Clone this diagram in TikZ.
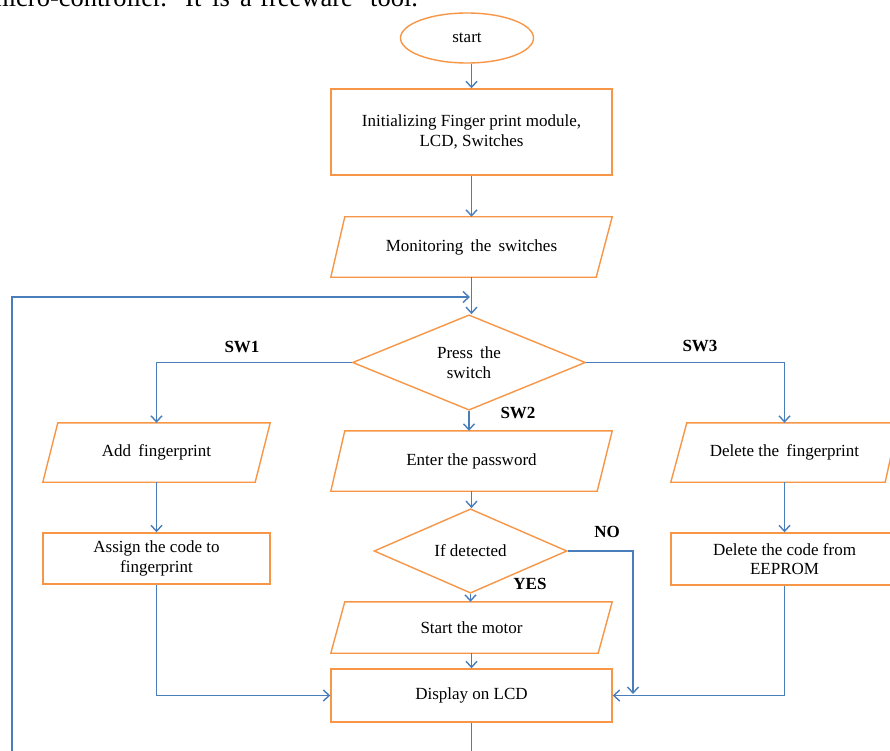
\documentclass[tikz,border=0pt]{standalone}
\usepackage{fontspec}
\setmainfont{Liberation Serif}
\usetikzlibrary{shapes.geometric,arrows.meta,calc}
\definecolor{shapeorange}{HTML}{F79646}
\definecolor{linkblue}{HTML}{4A7EBB}
\newcommand{\boxfont}{\fontsize{17}{19.5}\selectfont}
\tikzset{
  box/.style={rectangle, draw=shapeorange, line width=1.4pt, inner sep=0pt, align=center, font=\boxfont},
  paratext/.style={rectangle, inner sep=0pt, align=center, font=\boxfont},
  paraline/.style={draw=shapeorange, line width=1.4pt, line join=miter},
  decision/.style={diamond, draw=shapeorange, line width=1.4pt, inner sep=0pt, align=center, font=\boxfont},
  terminal/.style={ellipse, draw=shapeorange, line width=1.4pt, inner sep=0pt, font=\boxfont},
  link/.style={draw=linkblue, line width=1.4pt, -{Straight Barb[length=6pt,width=11pt]}},
  plainlink/.style={draw=linkblue, line width=1.4pt},
  swlabel/.style={font=\fontsize{17}{19.5}\selectfont\bfseries, inner sep=0pt},
  bodyword/.style={anchor=base west, inner sep=0pt, font=\fontsize{26.5}{30}\selectfont}
}
\begin{document}
\begin{tikzpicture}[x=1pt,y=-1pt]
\useasboundingbox (0,0) rectangle (890,751);
\clip (0,0) rectangle (890,751);
\fill[white] (0,0) rectangle (890,751);

% cut-off body text at the top (justified words)
\node[bodyword] (top1) at (-12,7) {micro-controller.};
\node[bodyword] (top2) at (185,7) {It};
\node[bodyword] (top3) at (212,7) {is};
\node[bodyword] (top4) at (240,7) {a};
\node[bodyword] (top5) at (260,7) {freeware};
\node[bodyword] (top6) at (370,7) {tool.};

% nodes
\node[terminal, minimum width=133pt, minimum height=50pt] (start) at (467,38) {start};
\node[box, minimum width=281pt, minimum height=86pt] (init) at (471.5,132)
  {Initializing Finger print module,\\LCD, Switches};
\node[paratext, minimum width=281pt, minimum height=60pt] (mon) at (471.5,247)
  {Monitoring\hspace{3pt} the\hspace{3pt} switches};
\node[decision, minimum width=233pt, minimum height=85pt] (press) at (469,362.5)
  {Press\hspace{3pt} the\\switch};
\node[paratext, minimum width=227pt, minimum height=59pt] (add) at (156.5,452.5)
  {Add\hspace{3pt} fingerprint};
\node[paratext, minimum width=281pt, minimum height=60pt] (pass) at (471.5,461)
  {Enter the password};
\node[paratext, minimum width=227pt, minimum height=59pt] (del) at (784.5,452.5)
  {Delete the\hspace{3pt} fingerprint};
\node[box, minimum width=227pt, minimum height=51pt] (assign) at (156.5,558.5)
  {Assign the code to\\fingerprint};
\node[decision, minimum width=193pt, minimum height=68pt] (detect) at (470.5,551)
  {If detected};
\node[box, minimum width=227pt, minimum height=52pt] (delcode) at (784.5,559)
  {Delete the code from\\EEPROM};
\node[paratext, minimum width=281pt, minimum height=51pt] (motor) at (471.5,627.5)
  {Start the motor};
\node[box, minimum width=281pt, minimum height=53pt] (disp) at (471.5,695.5)
  {Display on LCD};

% parallelogram outlines
\draw[paraline] ([xshift=14pt]mon.north west) -- (mon.north east) -- ([xshift=-16pt]mon.south east) -- (mon.south west) -- cycle;
\draw[paraline] ([xshift=15pt]add.north west) -- (add.north east) -- ([xshift=-15pt]add.south east) -- (add.south west) -- cycle;
\draw[paraline] ([xshift=14pt]pass.north west) -- (pass.north east) -- ([xshift=-15pt]pass.south east) -- (pass.south west) -- cycle;
\draw[paraline] ([xshift=16pt]del.north west) -- (del.north east) -- ([xshift=-13pt]del.south east) -- (del.south west) -- cycle;
\draw[paraline] ([xshift=14pt]motor.north west) -- (motor.north east) -- ([xshift=-14pt]motor.south east) -- (motor.south west) -- cycle;

% labels
\node[swlabel] (sw1) at (242,347) {SW1};
\node[swlabel] (sw3) at (700,346) {SW3};
\node[swlabel] (sw2) at (518,413) {SW2};
\node[swlabel] (no) at (607,532) {NO};
\node[swlabel] (yes) at (530,584) {YES};

% coordinates for free ends
\coordinate (loopbot) at (12,751);
\coordinate (loopin) at (470,297);
\coordinate (nojoin) at (633,694);

% connectors
\draw[link] (start.south -| init.north) -- (init.north);
\draw[link] (init.south) -- (mon.south |- mon.north);
\draw[link] (mon.south) -- (mon.south |- press.north);
\draw[link] (loopbot) |- (loopin);
\draw[link] (press.west) -| (add.north);
\draw[link] (press.east) -| (del.north);
\draw[link] (press.south) -- (press.south |- pass.north);
\draw[link] (pass.south) -- (pass.south |- detect.north);
\draw[link] (detect.south) -- (detect.south |- motor.north);
\draw[link] (detect.east) -| (nojoin);
\draw[link] (motor.south) -- (disp.north);
\draw[link] (add.south) -- (assign.north);
\draw[link] (del.south) -- (delcode.north);
\draw[link] (assign.south) |- (disp.west);
\draw[link] (delcode.south) |- (disp.east);
\draw[plainlink] (disp.south) -- (disp.south |- loopbot);
\end{tikzpicture}
\end{document}
